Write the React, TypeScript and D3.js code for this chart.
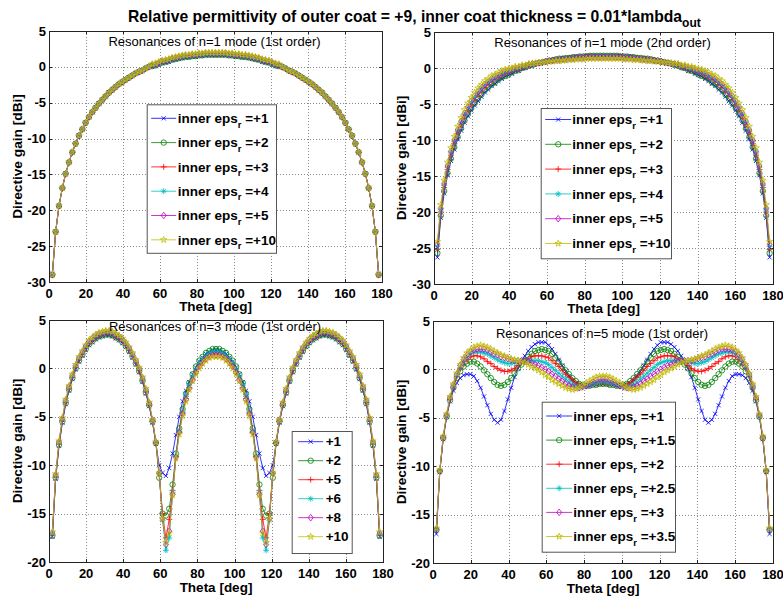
import React, { useRef, useEffect } from "react";
import * as d3 from "d3";

// theta samples [deg]
const theta = [
  1.8, 3.6, 5.4, 7.2, 9, 10.8, 12.6, 14.4, 16.2, 18, 19.8, 21.6, 23.4, 25.2, 27, 28.8, 30.6, 32.4, 34.2, 36,
  37.8, 39.6, 41.4, 43.2, 45, 46.8, 48.6, 50.4, 52.2, 54, 55.8, 57.6, 59.4, 61.2, 63, 64.8, 66.6, 68.4, 70.2, 72,
  73.8, 75.6, 77.4, 79.2, 81, 82.8, 84.6, 86.4, 88.2, 90, 91.8, 93.6, 95.4, 97.2, 99, 100.8, 102.6, 104.4, 106.2, 108,
  109.8, 111.6, 113.4, 115.2, 117, 118.8, 120.6, 122.4, 124.2, 126, 127.8, 129.6, 131.4, 133.2, 135, 136.8, 138.6, 140.4, 142.2, 144,
  145.8, 147.6, 149.4, 151.2, 153, 154.8, 156.6, 158.4, 160.2, 162, 163.8, 165.6, 167.4, 169.2, 171, 172.8, 174.6, 176.4, 178.2,
];

// n=1 mode, 1st order
const n1aEps1 = [
  -29, -23, -19.4, -16.9, -14.9, -13.3, -11.9, -10.7, -9.6, -8.7, -7.8, -7, -6.3, -5.7, -5.1, -4.6, -4.1, -3.6, -3.2, -2.8, -2.4, -2.1, -1.8, -1.5, -1.2, -0.9, -0.7, -0.5, -0.2, 0,
  0, 0.1, 0.3, 0.5, 0.6, 0.7, 0.9, 1, 1.1, 1.2, 1.3, 1.3, 1.4, 1.4, 1.5, 1.5, 1.6, 1.6, 1.6, 1.6,
  1.6, 1.6, 1.6, 1.5, 1.5, 1.4, 1.4, 1.3, 1.3, 1.2, 1.1, 1, 0.9, 0.7, 0.6, 0.5, 0.3, 0.1, 0,
  0, -0.2, -0.5, -0.7, -0.9, -1.2, -1.5, -1.8, -2.1, -2.4, -2.8, -3.2, -3.6, -4.1, -4.6, -5.1, -5.7, -6.3, -7, -7.8, -8.7, -9.6, -10.7, -11.9, -13.3, -14.9, -16.9, -19.4, -23, -29,
];
const n1aEps2 = [
  -29, -23, -19.4, -16.9, -14.9, -13.3, -11.9, -10.7, -9.6, -8.7, -7.8, -7, -6.3, -5.7, -5.1, -4.6, -4.1, -3.6, -3.2, -2.8, -2.4, -2.1, -1.8, -1.5, -1.2, -0.9, -0.7, -0.5, -0.2, 0,
  0.1, 0.2, 0.4, 0.6, 0.7, 0.8, 1, 1.1, 1.2, 1.3, 1.4, 1.4, 1.5, 1.5, 1.6, 1.6, 1.7, 1.7, 1.7, 1.7,
  1.7, 1.7, 1.7, 1.6, 1.6, 1.5, 1.5, 1.4, 1.4, 1.3, 1.2, 1.1, 1, 0.8, 0.7, 0.6, 0.4, 0.2, 0.1,
  0, -0.2, -0.5, -0.7, -0.9, -1.2, -1.5, -1.8, -2.1, -2.4, -2.8, -3.2, -3.6, -4.1, -4.6, -5.1, -5.7, -6.3, -7, -7.8, -8.7, -9.6, -10.7, -11.9, -13.3, -14.9, -16.9, -19.4, -23, -29,
];
const n1aEps3 = [
  -29, -23, -19.4, -16.9, -14.9, -13.3, -11.9, -10.7, -9.6, -8.7, -7.8, -7, -6.3, -5.7, -5.1, -4.6, -4.1, -3.6, -3.2, -2.8, -2.4, -2.1, -1.8, -1.5, -1.2, -0.9, -0.7, -0.5, -0.2, 0,
  0.2, 0.3, 0.5, 0.7, 0.8, 0.9, 1.1, 1.2, 1.3, 1.4, 1.5, 1.5, 1.6, 1.6, 1.7, 1.7, 1.8, 1.8, 1.8, 1.8,
  1.8, 1.8, 1.8, 1.7, 1.7, 1.6, 1.6, 1.5, 1.5, 1.4, 1.3, 1.2, 1.1, 0.9, 0.8, 0.7, 0.5, 0.3, 0.2,
  0, -0.2, -0.5, -0.7, -0.9, -1.2, -1.5, -1.8, -2.1, -2.4, -2.8, -3.2, -3.6, -4.1, -4.6, -5.1, -5.7, -6.3, -7, -7.8, -8.7, -9.6, -10.7, -11.9, -13.3, -14.9, -16.9, -19.4, -23, -29,
];
const n1aEps4 = [
  -28.8, -22.9, -19.3, -16.9, -14.9, -13.3, -11.9, -10.7, -9.6, -8.7, -7.8, -7, -6.3, -5.7, -5.1, -4.6, -4.1, -3.6, -3.2, -2.8, -2.4, -2.1, -1.8, -1.5, -1.2, -0.9, -0.7, -0.5, -0.2, 0,
  0.2, 0.3, 0.5, 0.7, 0.8, 0.9, 1.1, 1.2, 1.3, 1.4, 1.5, 1.5, 1.6, 1.6, 1.7, 1.7, 1.8, 1.8, 1.8, 1.8,
  1.8, 1.8, 1.8, 1.7, 1.7, 1.6, 1.6, 1.5, 1.5, 1.4, 1.3, 1.2, 1.1, 0.9, 0.8, 0.7, 0.5, 0.3, 0.2,
  0, -0.2, -0.5, -0.7, -0.9, -1.2, -1.5, -1.8, -2.1, -2.4, -2.8, -3.2, -3.6, -4.1, -4.6, -5.1, -5.7, -6.3, -7, -7.8, -8.7, -9.6, -10.7, -11.9, -13.3, -14.9, -16.9, -19.3, -22.9, -28.8,
];
const n1aEps5 = [
  -29, -23, -19.4, -16.9, -14.9, -13.3, -11.9, -10.7, -9.6, -8.7, -7.8, -7, -6.3, -5.7, -5.1, -4.6, -4.1, -3.6, -3.2, -2.8, -2.4, -2.1, -1.8, -1.5, -1.2, -0.9, -0.7, -0.5, -0.2, 0,
  0.3, 0.4, 0.6, 0.8, 0.9, 1, 1.2, 1.3, 1.4, 1.5, 1.6, 1.6, 1.7, 1.7, 1.8, 1.8, 1.9, 1.9, 1.9, 1.9,
  1.9, 1.9, 1.9, 1.8, 1.8, 1.7, 1.7, 1.6, 1.6, 1.5, 1.4, 1.3, 1.2, 1, 0.9, 0.8, 0.6, 0.4, 0.3,
  0, -0.2, -0.5, -0.7, -0.9, -1.2, -1.5, -1.8, -2.1, -2.4, -2.8, -3.2, -3.6, -4.1, -4.6, -5.1, -5.7, -6.3, -7, -7.8, -8.7, -9.6, -10.7, -11.9, -13.3, -14.9, -16.9, -19.4, -23, -29,
];
const n1aEps10 = [
  -29, -23, -19.4, -16.9, -14.9, -13.3, -11.9, -10.7, -9.6, -8.7, -7.8, -7, -6.3, -5.7, -5.1, -4.6, -4.1, -3.6, -3.2, -2.8, -2.4, -2.1, -1.8, -1.5, -1.2, -0.9, -0.7, -0.5, -0.2, 0,
  0.4, 0.5, 0.7, 0.9, 1, 1.1, 1.3, 1.4, 1.5, 1.6, 1.7, 1.7, 1.8, 1.8, 1.9, 1.9, 2, 2, 2, 2,
  2, 2, 2, 1.9, 1.9, 1.8, 1.8, 1.7, 1.7, 1.6, 1.5, 1.4, 1.3, 1.1, 1, 0.9, 0.7, 0.5, 0.4,
  0, -0.2, -0.5, -0.7, -0.9, -1.2, -1.5, -1.8, -2.1, -2.4, -2.8, -3.2, -3.6, -4.1, -4.6, -5.1, -5.7, -6.3, -7, -7.8, -8.7, -9.6, -10.7, -11.9, -13.3, -14.9, -16.9, -19.4, -23, -29,
];

// n=1 mode, 2nd order
const n1bEps1 = [
  -26.3, -20.8, -17.4, -14.9, -12.9, -11.3, -9.9, -8.7, -7.6, -6.7, -5.9, -5.2, -4.6,
  -4, -3.4, -3, -2.5, -2.2, -1.8, -1.5, -1.2, -1, -0.8, -0.5, -0.4, -0.1, 0, 0.3, 0.4, 0.6,
  0.7, 0.8, 0.9, 1, 1.1, 1.2, 1.3, 1.3, 1.4, 1.4, 1.5, 1.6, 1.6, 1.6, 1.7, 1.7, 1.7, 1.7, 1.7, 1.7,
  1.7, 1.7, 1.7, 1.7, 1.7, 1.6, 1.6, 1.6, 1.5, 1.4, 1.4, 1.3, 1.3, 1.2, 1.1, 1, 0.9, 0.8, 0.7,
  0.6, 0.4, 0.3, 0, -0.1, -0.4, -0.5, -0.8, -1, -1.2, -1.5, -1.8, -2.2, -2.5, -3, -3.4, -4,
  -4.6, -5.2, -5.9, -6.7, -7.6, -8.7, -9.9, -11.3, -12.9, -14.9, -17.4, -20.8, -26.3,
];
const n1bEps2 = [
  -25.7, -20.5, -17.1, -14.6, -12.6, -11, -9.6, -8.4, -7.3, -6.4, -5.6, -4.9, -4.3,
  -3.7, -3.1, -2.7, -2.3, -2, -1.6, -1.3, -1.1, -0.9, -0.6, -0.4, -0.3, 0, 0.1, 0.3, 0.4, 0.6,
  0.7, 0.8, 0.9, 1, 1.1, 1.2, 1.3, 1.3, 1.4, 1.4, 1.5, 1.5, 1.6, 1.6, 1.6, 1.7, 1.7, 1.7, 1.7, 1.7,
  1.7, 1.7, 1.7, 1.7, 1.6, 1.6, 1.6, 1.5, 1.5, 1.4, 1.4, 1.3, 1.3, 1.2, 1.1, 1, 0.9, 0.8, 0.7,
  0.6, 0.4, 0.3, 0.1, 0, -0.3, -0.4, -0.6, -0.9, -1.1, -1.3, -1.6, -2, -2.3, -2.7, -3.1, -3.7,
  -4.3, -4.9, -5.6, -6.4, -7.3, -8.4, -9.6, -11, -12.6, -14.6, -17.1, -20.5, -25.7,
];
const n1bEps3 = [
  -25.2, -20, -16.6, -14.1, -12.1, -10.5, -9.1, -7.9, -6.8, -5.9, -5.1, -4.4, -3.8,
  -3.2, -2.7, -2.3, -1.9, -1.6, -1.3, -1, -0.8, -0.6, -0.4, -0.2, -0.1, 0.1, 0.2, 0.4, 0.5, 0.6,
  0.7, 0.8, 0.9, 1, 1.1, 1.1, 1.2, 1.3, 1.3, 1.4, 1.4, 1.5, 1.5, 1.5, 1.6, 1.6, 1.6, 1.6, 1.6, 1.6,
  1.6, 1.6, 1.6, 1.6, 1.6, 1.5, 1.5, 1.5, 1.4, 1.4, 1.3, 1.3, 1.2, 1.1, 1.1, 1, 0.9, 0.8, 0.7,
  0.6, 0.5, 0.4, 0.2, 0.1, -0.1, -0.2, -0.4, -0.6, -0.8, -1, -1.3, -1.6, -1.9, -2.3, -2.7, -3.2,
  -3.8, -4.4, -5.1, -5.9, -6.8, -7.9, -9.1, -10.5, -12.1, -14.1, -16.6, -20, -25.2,
];
const n1bEps4 = [
  -24.8, -19.7, -16.3, -13.8, -11.8, -10.2, -8.8, -7.6, -6.5, -5.6, -4.8, -4.1, -3.5,
  -2.9, -2.4, -2, -1.7, -1.4, -1.1, -0.8, -0.6, -0.5, -0.3, -0.1, 0, 0.2, 0.3, 0.5, 0.5, 0.6,
  0.7, 0.8, 0.9, 1, 1, 1.1, 1.2, 1.2, 1.3, 1.3, 1.4, 1.4, 1.5, 1.5, 1.5, 1.5, 1.6, 1.6, 1.6, 1.6,
  1.6, 1.6, 1.6, 1.5, 1.5, 1.5, 1.5, 1.4, 1.4, 1.3, 1.3, 1.2, 1.2, 1.1, 1, 1, 0.9, 0.8, 0.7,
  0.6, 0.5, 0.5, 0.3, 0.2, 0, -0.1, -0.3, -0.5, -0.6, -0.8, -1.1, -1.4, -1.7, -2, -2.4, -2.9,
  -3.5, -4.1, -4.8, -5.6, -6.5, -7.6, -8.8, -10.2, -11.8, -13.8, -16.3, -19.7, -24.8,
];
const n1bEps5 = [
  -24.5, -19.5, -16.1, -13.6, -11.6, -10, -8.6, -7.4, -6.3, -5.4, -4.6, -3.9, -3.3,
  -2.7, -2.3, -1.9, -1.5, -1.2, -1, -0.7, -0.5, -0.4, -0.2, 0, 0.1, 0.2, 0.3, 0.5, 0.6, 0.6,
  0.7, 0.8, 0.9, 1, 1, 1.1, 1.1, 1.2, 1.2, 1.3, 1.3, 1.4, 1.4, 1.4, 1.5, 1.5, 1.5, 1.5, 1.5, 1.5,
  1.5, 1.5, 1.5, 1.5, 1.5, 1.4, 1.4, 1.4, 1.3, 1.3, 1.2, 1.2, 1.1, 1.1, 1, 1, 0.9, 0.8, 0.7,
  0.6, 0.6, 0.5, 0.3, 0.2, 0.1, 0, -0.2, -0.4, -0.5, -0.7, -1, -1.2, -1.5, -1.9, -2.3, -2.7,
  -3.3, -3.9, -4.6, -5.4, -6.3, -7.4, -8.6, -10, -11.6, -13.6, -16.1, -19.5, -24.5,
];
const n1bEps10 = [
  -24.1, -19, -15.6, -13.1, -11.1, -9.5, -8.1, -6.9, -5.8, -4.9, -4.1, -3.4, -2.8,
  -2.3, -1.8, -1.5, -1.1, -0.9, -0.6, -0.4, -0.2, -0.1, 0, 0.2, 0.2, 0.4, 0.4, 0.6, 0.6, 0.7,
  0.7, 0.8, 0.8, 0.9, 0.9, 1, 1, 1, 1.1, 1.1, 1.1, 1.2, 1.2, 1.2, 1.3, 1.3, 1.3, 1.3, 1.3, 1.3,
  1.3, 1.3, 1.3, 1.3, 1.3, 1.2, 1.2, 1.2, 1.1, 1.1, 1.1, 1, 1, 1, 0.9, 0.9, 0.8, 0.8, 0.7,
  0.7, 0.6, 0.6, 0.4, 0.4, 0.2, 0.2, 0, -0.1, -0.2, -0.4, -0.6, -0.9, -1.1, -1.5, -1.8, -2.3,
  -2.8, -3.4, -4.1, -4.9, -5.8, -6.9, -8.1, -9.5, -11.1, -13.1, -15.6, -19, -24.1,
];

// n=3 mode, 1st order
const n3Eps1 = [
  -17.4, -11.4, -8, -5.6, -3.7, -2.3, -1.1, -0.1, 0.7, 1.3,
  1.9, 2.4, 2.7, 3, 3.2, 3.3, 3.4, 3.4, 3.3, 3.1,
  2.9, 2.6, 2.2, 1.7, 1.1, 0.4, -0.4, -1.4, -2.6, -3.9,
  -5.6, -7.8, -10, -10.8, -11.1, -10.3, -8.8, -6.9, -5, -3.4,
  -2.3, -1.4, -0.6, 0.1, 0.7, 1.1, 1.5, 1.7, 1.9, 1.9,
  1.9, 1.7, 1.5, 1.1, 0.7, 0.1, -0.6, -1.4, -2.3,
  -3.4, -5, -6.9, -8.8, -10.3, -11.1, -10.8, -10, -7.8, -5.6,
  -3.9, -2.6, -1.4, -0.4, 0.4, 1.1, 1.7, 2.2, 2.6, 2.9,
  3.1, 3.3, 3.4, 3.4, 3.3, 3.2, 3, 2.7, 2.4, 1.9,
  1.3, 0.7, -0.1, -1.1, -2.3, -3.7, -5.6, -8, -11.4, -17.4,
];
const n3Eps2 = [
  -17.3, -11.3, -7.9, -5.5, -3.6, -2.2, -1, 0, 0.8, 1.4,
  2, 2.5, 2.8, 3.1, 3.3, 3.4, 3.5, 3.5, 3.4, 3.2,
  3, 2.7, 2.3, 1.8, 1.2, 0.5, -0.3, -1.3, -2.5, -3.8,
  -5.5, -7.7, -11.3, -15, -15.2, -14.5, -12, -8.8, -6.2, -4.2,
  -2.6, -1.5, -0.6, 0.2, 0.8, 1.2, 1.6, 1.8, 2, 2,
  2, 1.8, 1.6, 1.2, 0.8, 0.2, -0.6, -1.5, -2.6,
  -4.2, -6.2, -8.8, -12, -14.5, -15.2, -15, -11.3, -7.7, -5.5,
  -3.8, -2.5, -1.3, -0.3, 0.5, 1.2, 1.8, 2.3, 2.7, 3,
  3.2, 3.4, 3.5, 3.5, 3.4, 3.3, 3.1, 2.8, 2.5, 2,
  1.4, 0.8, 0, -1, -2.2, -3.6, -5.5, -7.9, -11.3, -17.3,
];
const n3Eps5 = [
  -17.2, -11.2, -7.8, -5.4, -3.5, -2.1, -0.9, 0.1, 0.9, 1.5,
  2.1, 2.6, 2.9, 3.2, 3.4, 3.5, 3.6, 3.6, 3.5, 3.3,
  3.1, 2.8, 2.4, 1.9, 1.3, 0.6, -0.2, -1.2, -2.4, -3.8,
  -5.5, -7.7, -10.9, -15, -17.5, -15.6, -12.6, -9.1, -6.6, -4.6,
  -3.1, -2, -1.1, -0.3, 0.3, 0.7, 1.1, 1.3, 1.5, 1.5,
  1.5, 1.3, 1.1, 0.7, 0.3, -0.3, -1.1, -2, -3.1,
  -4.6, -6.6, -9.1, -12.6, -15.6, -17.5, -15, -10.9, -7.7, -5.5,
  -3.8, -2.4, -1.2, -0.2, 0.6, 1.3, 1.9, 2.4, 2.8, 3.1,
  3.3, 3.5, 3.6, 3.6, 3.5, 3.4, 3.2, 2.9, 2.6, 2.1,
  1.5, 0.9, 0.1, -0.9, -2.1, -3.5, -5.4, -7.8, -11.2, -17.2,
];
const n3Eps6 = [
  -17.1, -11.1, -7.7, -5.3, -3.4, -2, -0.8, 0.2, 1, 1.6,
  2.2, 2.7, 3, 3.3, 3.5, 3.6, 3.7, 3.7, 3.6, 3.4,
  3.2, 2.9, 2.5, 2, 1.4, 0.7, -0.1, -1.1, -2.3, -3.7,
  -5.4, -7.6, -10.8, -15.7, -18.8, -17.5, -12.8, -9, -6.5, -4.5,
  -2.9, -1.8, -0.9, -0.1, 0.5, 0.9, 1.3, 1.5, 1.7, 1.7,
  1.7, 1.5, 1.3, 0.9, 0.5, -0.1, -0.9, -1.8, -2.9,
  -4.5, -6.5, -9, -12.8, -17.5, -18.8, -15.7, -10.8, -7.6, -5.4,
  -3.7, -2.3, -1.1, -0.1, 0.7, 1.4, 2, 2.5, 2.9, 3.2,
  3.4, 3.6, 3.7, 3.7, 3.6, 3.5, 3.3, 3, 2.7, 2.2,
  1.6, 1, 0.2, -0.8, -2, -3.4, -5.3, -7.7, -11.1, -17.1,
];
const n3Eps8 = [
  -17, -11, -7.6, -5.2, -3.3, -1.9, -0.7, 0.3, 1.1, 1.7,
  2.3, 2.8, 3.1, 3.4, 3.6, 3.7, 3.8, 3.8, 3.7, 3.5,
  3.3, 3, 2.6, 2.1, 1.5, 0.8, 0, -1, -2.2, -3.6,
  -5.3, -7.6, -10.8, -15.5, -18.2, -16.8, -13, -9.2, -6.6, -4.7,
  -3.2, -2.1, -1.2, -0.4, 0.2, 0.6, 1, 1.2, 1.4, 1.4,
  1.4, 1.2, 1, 0.6, 0.2, -0.4, -1.2, -2.1, -3.2,
  -4.7, -6.6, -9.2, -13, -16.8, -18.2, -15.5, -10.8, -7.6, -5.3,
  -3.6, -2.2, -1, 0, 0.8, 1.5, 2.1, 2.6, 3, 3.3,
  3.5, 3.7, 3.8, 3.8, 3.7, 3.6, 3.4, 3.1, 2.8, 2.3,
  1.7, 1.1, 0.3, -0.7, -1.9, -3.3, -5.2, -7.6, -11, -17,
];
const n3Eps10 = [
  -16.9, -10.9, -7.5, -5.1, -3.2, -1.8, -0.6, 0.4, 1.2, 1.8,
  2.4, 2.9, 3.2, 3.5, 3.7, 3.8, 3.9, 3.9, 3.8, 3.6,
  3.4, 3.1, 2.7, 2.2, 1.6, 0.9, 0.1, -0.9, -2.1, -3.5,
  -5.3, -7.6, -10.8, -15.5, -18, -17, -13.1, -9.3, -6.8, -4.9,
  -3.4, -2.2, -1.3, -0.6, 0, 0.5, 0.8, 1.1, 1.2, 1.2,
  1.2, 1.1, 0.8, 0.5, 0, -0.6, -1.3, -2.2, -3.4,
  -4.9, -6.8, -9.3, -13.1, -17, -18, -15.5, -10.8, -7.6, -5.3,
  -3.5, -2.1, -0.9, 0.1, 0.9, 1.6, 2.2, 2.7, 3.1, 3.4,
  3.6, 3.8, 3.9, 3.9, 3.8, 3.7, 3.5, 3.2, 2.9, 2.4,
  1.8, 1.2, 0.4, -0.6, -1.8, -3.2, -5.1, -7.5, -10.9, -16.9,
];

// n=5 mode, 1st order
const n5Eps1 = [
  -17, -10.6, -7.2, -4.9, -3.3, -2.2, -1.4, -0.9, -0.6, -0.5,
  -0.5, -0.7, -1.2, -1.9, -2.8, -3.7, -4.6, -5.2, -5.5, -5.2,
  -4.3, -3.1, -1.9, -0.8, 0.1, 0.8, 1.4, 1.9, 2.3, 2.6,
  2.8, 2.8, 2.8, 2.5, 2.1, 1.6, 1, 0.4, -0.2, -0.7,
  -1.1, -1.4, -1.6, -1.7, -1.7, -1.7, -1.6, -1.6, -1.5, -1.5,
  -1.5, -1.6, -1.6, -1.7, -1.7, -1.7, -1.6, -1.4, -1.1,
  -0.7, -0.2, 0.4, 1, 1.6, 2.1, 2.5, 2.8, 2.8, 2.8,
  2.6, 2.3, 1.9, 1.4, 0.8, 0.1, -0.8, -1.9, -3.1, -4.3,
  -5.2, -5.5, -5.2, -4.6, -3.7, -2.8, -1.9, -1.2, -0.7, -0.5,
  -0.5, -0.6, -0.9, -1.4, -2.2, -3.3, -4.9, -7.2, -10.6, -17,
];
const n5Eps15 = [
  -16.6, -10.5, -7.1, -4.9, -3.2, -1.9, -0.9, -0.2, 0.3, 0.6,
  0.8, 0.8, 0.6, 0.3, -0.1, -0.5, -0.9, -1.3, -1.6, -1.7,
  -1.6, -1.3, -0.9, -0.4, 0.1, 0.5, 0.9, 1.3, 1.6, 1.9,
  2, 2.1, 2, 1.9, 1.6, 1.2, 0.8, 0.3, -0.1, -0.5,
  -0.9, -1.2, -1.5, -1.6, -1.7, -1.7, -1.6, -1.6, -1.5, -1.5,
  -1.5, -1.6, -1.6, -1.7, -1.7, -1.6, -1.5, -1.2, -0.9,
  -0.5, -0.1, 0.3, 0.8, 1.2, 1.6, 1.9, 2, 2.1, 2,
  1.9, 1.6, 1.3, 0.9, 0.5, 0.1, -0.4, -0.9, -1.3, -1.6,
  -1.7, -1.6, -1.3, -0.9, -0.5, -0.1, 0.3, 0.6, 0.8, 0.8,
  0.6, 0.3, -0.2, -0.9, -1.9, -3.2, -4.9, -7.1, -10.5, -16.6,
];
const n5Eps2 = [
  -16.5, -10.5, -7.1, -4.8, -3.1, -1.8, -0.7, 0.1, 0.6, 1,
  1.3, 1.4, 1.4, 1.3, 1.1, 0.8, 0.6, 0.3, 0.1, -0.1,
  -0.2, -0.2, -0.1, 0.1, 0.4, 0.7, 0.9, 1.1, 1.3, 1.4,
  1.4, 1.4, 1.3, 1.2, 0.9, 0.6, 0.3, -0.1, -0.5, -0.8,
  -1.1, -1.4, -1.6, -1.7, -1.7, -1.6, -1.5, -1.5, -1.4, -1.4,
  -1.4, -1.5, -1.5, -1.6, -1.7, -1.7, -1.6, -1.4, -1.1,
  -0.8, -0.5, -0.1, 0.3, 0.6, 0.9, 1.2, 1.3, 1.4, 1.4,
  1.4, 1.3, 1.1, 0.9, 0.7, 0.4, 0.1, -0.1, -0.2, -0.2,
  -0.1, 0.1, 0.3, 0.6, 0.8, 1.1, 1.3, 1.4, 1.4, 1.3,
  1, 0.6, 0.1, -0.7, -1.8, -3.1, -4.8, -7.1, -10.5, -16.5,
];
const n5Eps25 = [
  -16.5, -10.5, -7, -4.8, -3, -1.7, -0.6, 0.2, 0.8, 1.3,
  1.6, 1.8, 1.8, 1.8, 1.7, 1.6, 1.4, 1.2, 1, 0.8,
  0.7, 0.6, 0.6, 0.7, 0.7, 0.8, 0.9, 0.9, 0.9, 0.9,
  0.9, 0.8, 0.7, 0.5, 0.2, -0.1, -0.4, -0.7, -1, -1.3,
  -1.6, -1.7, -1.8, -1.8, -1.7, -1.6, -1.5, -1.4, -1.3, -1.2,
  -1.3, -1.4, -1.5, -1.6, -1.7, -1.8, -1.8, -1.7, -1.6,
  -1.3, -1, -0.7, -0.4, -0.1, 0.2, 0.5, 0.7, 0.8, 0.9,
  0.9, 0.9, 0.9, 0.9, 0.8, 0.7, 0.7, 0.6, 0.6, 0.7,
  0.8, 1, 1.2, 1.4, 1.6, 1.7, 1.8, 1.8, 1.8, 1.6,
  1.3, 0.8, 0.2, -0.6, -1.7, -3, -4.8, -7, -10.5, -16.5,
];
const n5Eps3 = [
  -16.5, -10.5, -7, -4.7, -2.9, -1.6, -0.5, 0.4, 1, 1.5,
  1.8, 2, 2.1, 2.1, 2.1, 2, 1.8, 1.6, 1.5, 1.3,
  1.2, 1.1, 1, 0.9, 0.9, 0.9, 0.8, 0.8, 0.7, 0.5,
  0.4, 0.2, 0, -0.2, -0.5, -0.7, -1, -1.2, -1.5, -1.7,
  -1.8, -1.9, -1.9, -1.8, -1.7, -1.5, -1.3, -1.1, -1, -1,
  -1, -1.1, -1.3, -1.5, -1.7, -1.8, -1.9, -1.9, -1.8,
  -1.7, -1.5, -1.2, -1, -0.7, -0.5, -0.2, 0, 0.2, 0.4,
  0.5, 0.7, 0.8, 0.8, 0.9, 0.9, 0.9, 1, 1.1, 1.2,
  1.3, 1.5, 1.6, 1.8, 2, 2.1, 2.1, 2.1, 2, 1.8,
  1.5, 1, 0.4, -0.5, -1.6, -2.9, -4.7, -7, -10.5, -16.5,
];
const n5Eps35 = [
  -16.4, -10.4, -6.9, -4.6, -2.8, -1.5, -0.4, 0.5, 1.2, 1.7,
  2, 2.3, 2.4, 2.5, 2.4, 2.3, 2.1, 1.9, 1.7, 1.5,
  1.4, 1.2, 1.1, 1, 0.9, 0.8, 0.7, 0.5, 0.3, 0.1,
  -0.1, -0.3, -0.6, -0.8, -1.1, -1.3, -1.5, -1.7, -1.9, -2,
  -2.1, -2, -1.9, -1.7, -1.4, -1.2, -1, -0.8, -0.7, -0.7,
  -0.7, -0.8, -1, -1.2, -1.4, -1.7, -1.9, -2, -2.1,
  -2, -1.9, -1.7, -1.5, -1.3, -1.1, -0.8, -0.6, -0.3, -0.1,
  0.1, 0.3, 0.5, 0.7, 0.8, 0.9, 1, 1.1, 1.2, 1.4,
  1.5, 1.7, 1.9, 2.1, 2.3, 2.4, 2.5, 2.4, 2.3, 2,
  1.7, 1.2, 0.5, -0.4, -1.5, -2.8, -4.6, -6.9, -10.4, -16.4,
];

const legendN1 = ["+1", "+2", "+3", "+4", "+5", "+10"];
const legendN3 = ["+1", "+2", "+5", "+6", "+8", "+10"];
const legendN5 = ["+1", "+1.5", "+2", "+2.5", "+3", "+3.5"];

const xTicks = [0, 20, 40, 60, 80, 100, 120, 140, 160, 180];
const yTicksTop = [-30, -25, -20, -15, -10, -5, 0, 5];
const yTicksBottom = [-20, -15, -10, -5, 0, 5];

const colors = ["#0000ff", "#008000", "#ff0000", "#00bfbf", "#bf00bf", "#bfbf00"];
const markerTypes = ["x", "o", "+", "*", "d", "p"];

const panels = [
  {
    title: "Resonances of n=1 mode (1st order)",
    series: [n1aEps1, n1aEps2, n1aEps3, n1aEps4, n1aEps5, n1aEps10],
    labels: legendN1, prefix: true, yTicks: yTicksTop,
    left: 49, right: 382, top: 31, bottom: 282, titleY: 45.5, xLabelY: 311, yLabelX: 21.7,
    legend: { x: 146.7, y: 104.3, w: 129.3, h: 148.5, first: 14, step: 24.3, lx1: 4.5, lx2: 29.5, tx: 31 },
  },
  {
    title: "Resonances of n=1 mode (2nd order)",
    series: [n1bEps1, n1bEps2, n1bEps3, n1bEps4, n1bEps5, n1bEps10],
    labels: legendN1, prefix: true, yTicks: yTicksTop,
    left: 434, right: 773, top: 32, bottom: 284, titleY: 46.5, xLabelY: 313, yLabelX: 406,
    legend: { x: 540.7, y: 108, w: 130.3, h: 150.3, first: 11.5, step: 24.8, lx1: 4.5, lx2: 30.5, tx: 31.5 },
  },
  {
    title: "Resonances of n=3 mode (1st order)",
    series: [n3Eps1, n3Eps2, n3Eps5, n3Eps6, n3Eps8, n3Eps10],
    labels: legendN3, prefix: false, yTicks: yTicksBottom,
    left: 49, right: 383, top: 320, bottom: 562, titleY: 331, xLabelY: 592, yLabelX: 21.7,
    legend: { x: 291.7, y: 431, w: 60, h: 122, first: 10.7, step: 19, lx1: 6.5, lx2: 31.5, tx: 34 },
  },
  {
    title: "Resonances of n=5 mode (1st order)",
    series: [n5Eps1, n5Eps15, n5Eps2, n5Eps25, n5Eps3, n5Eps35],
    labels: legendN5, prefix: true, yTicks: yTicksBottom,
    left: 433, right: 773, top: 321, bottom: 563, titleY: 338, xLabelY: 593, yLabelX: 406,
    legend: { x: 541.7, y: 401.7, w: 133.3, h: 150, first: 14.3, step: 24.1, lx1: 4.5, lx2: 30.5, tx: 31.5 },
  },
];

const FONT = "'Liberation Sans', Arial, Helvetica, sans-serif";

function markerPath(type: string): string {
  switch (type) {
    case "x":
      return "M-2.1,-2.1L2.1,2.1M-2.1,2.1L2.1,-2.1";
    case "o":
      return "M2.7,0A2.7,2.7 0 1,1 -2.7,0A2.7,2.7 0 1,1 2.7,0Z";
    case "+":
      return "M-3,0L3,0M0,-3L0,3";
    case "*":
      return "M-3,0L3,0M0,-3L0,3M-2.1,-2.1L2.1,2.1M-2.1,2.1L2.1,-2.1";
    case "d":
      return "M0,-3.3L2.5,0L0,3.3L-2.5,0Z";
    default:
      return d3.symbol(d3.symbolStar, 13)() || "";
  }
}

function drawPanel(svg: any, p: any) {
  const x = d3.scaleLinear().domain([0, 180]).range([p.left, p.right]);
  const y = d3.scaleLinear().domain([p.yTicks[0], 5]).range([p.bottom, p.top]);
  const g = svg.append("g");

  // grid
  g.selectAll("line.gx")
    .data(xTicks.slice(1, -1))
    .join("line")
    .attr("x1", (d: number) => Math.round(x(d)) + 0.5)
    .attr("x2", (d: number) => Math.round(x(d)) + 0.5)
    .attr("y1", p.top)
    .attr("y2", p.bottom)
    .attr("stroke", "#8a8a8a")
    .attr("stroke-width", 1)
    .attr("stroke-dasharray", "1,2");
  g.selectAll("line.gy")
    .data(p.yTicks.slice(1, -1))
    .join("line")
    .attr("x1", p.left)
    .attr("x2", p.right)
    .attr("y1", (d: number) => Math.round(y(d)) + 0.5)
    .attr("y2", (d: number) => Math.round(y(d)) + 0.5)
    .attr("stroke", "#8a8a8a")
    .attr("stroke-width", 1)
    .attr("stroke-dasharray", "1,2");

  // inner tick marks
  xTicks.forEach((t) => {
    const xx = Math.round(x(t)) + 0.5;
    g.append("line").attr("x1", xx).attr("x2", xx).attr("y1", p.bottom).attr("y2", p.bottom - 3).attr("stroke", "#222");
    g.append("line").attr("x1", xx).attr("x2", xx).attr("y1", p.top).attr("y2", p.top + 3).attr("stroke", "#222");
  });
  p.yTicks.forEach((t: number) => {
    const yy = Math.round(y(t)) + 0.5;
    g.append("line").attr("x1", p.left).attr("x2", p.left + 3).attr("y1", yy).attr("y2", yy).attr("stroke", "#222");
    g.append("line").attr("x1", p.right).attr("x2", p.right - 3).attr("y1", yy).attr("y2", yy).attr("stroke", "#222");
  });

  // series
  const line = d3
    .line<number>()
    .x((_d, i) => x(theta[i]))
    .y((d) => y(d));
  p.series.forEach((vals: number[], k: number) => {
    const sg = g.append("g");
    sg.append("path")
      .attr("d", line(vals))
      .attr("fill", "none")
      .attr("stroke", colors[k])
      .attr("stroke-width", 0.8);
    const mp = markerPath(markerTypes[k]);
    sg.selectAll("path.m")
      .data(vals)
      .join("path")
      .attr("class", "m")
      .attr("d", mp)
      .attr("transform", (d: number, i: number) => `translate(${x(theta[i])},${y(d)})`)
      .attr("fill", "none")
      .attr("stroke", colors[k])
      .attr("stroke-width", 0.8);
  });

  // axes box
  g.append("rect")
    .attr("x", p.left + 0.5)
    .attr("y", p.top + 0.5)
    .attr("width", p.right - p.left)
    .attr("height", p.bottom - p.top)
    .attr("fill", "none")
    .attr("stroke", "#222")
    .attr("stroke-width", 1);

  // tick labels
  g.selectAll("text.xt")
    .data(xTicks)
    .join("text")
    .attr("x", (d: number) => x(d))
    .attr("y", p.bottom + 15.5)
    .attr("text-anchor", "middle")
    .attr("font-family", FONT)
    .attr("font-weight", "bold")
    .attr("font-size", 13)
    .text((d: number) => d);
  g.selectAll("text.yt")
    .data(p.yTicks)
    .join("text")
    .attr("x", p.left - 3)
    .attr("y", (d: number) => y(d) + 4.6)
    .attr("text-anchor", "end")
    .attr("font-family", FONT)
    .attr("font-weight", "bold")
    .attr("font-size", 13)
    .text((d: number) => d);

  // labels
  g.append("text")
    .attr("x", (p.left + p.right) / 2)
    .attr("y", p.xLabelY)
    .attr("text-anchor", "middle")
    .attr("font-family", FONT)
    .attr("font-weight", "bold")
    .attr("font-size", 13.5)
    .text("Theta [deg]");
  g.append("text")
    .attr("transform", `translate(${p.yLabelX},${(p.top + p.bottom) / 2}) rotate(-90)`)
    .attr("text-anchor", "middle")
    .attr("font-family", FONT)
    .attr("font-weight", "bold")
    .attr("font-size", 13.7)
    .text("Directive gain [dBi]");
  g.append("text")
    .attr("x", (p.left + p.right) / 2 - 1)
    .attr("y", p.titleY)
    .attr("text-anchor", "middle")
    .attr("font-family", FONT)
    .attr("font-size", 13)
    .text(p.title);

  // legend
  const L = p.legend;
  const lg = g.append("g");
  lg.append("rect")
    .attr("x", L.x + 0.5)
    .attr("y", L.y + 0.5)
    .attr("width", L.w)
    .attr("height", L.h)
    .attr("fill", "#fff")
    .attr("stroke", "#555")
    .attr("stroke-width", 1);
  p.labels.forEach((lab: string, k: number) => {
    const ry = L.y + L.first + k * L.step;
    lg.append("line")
      .attr("x1", L.x + L.lx1)
      .attr("x2", L.x + L.lx2)
      .attr("y1", ry)
      .attr("y2", ry)
      .attr("stroke", colors[k])
      .attr("stroke-width", 0.8);
    lg.append("path")
      .attr("d", markerPath(markerTypes[k]))
      .attr("transform", `translate(${L.x + (L.lx1 + L.lx2) / 2},${ry})`)
      .attr("fill", "none")
      .attr("stroke", colors[k])
      .attr("stroke-width", 0.8);
    const t = lg
      .append("text")
      .attr("x", L.x + L.tx)
      .attr("y", ry + 4.7)
      .attr("font-family", FONT)
      .attr("font-weight", "bold")
      .attr("font-size", 13.5);
    if (p.prefix) {
      t.append("tspan").text("inner eps");
      t.append("tspan").attr("dy", 4.5).attr("font-size", 9.5).text("r");
      t.append("tspan").attr("dy", -4.5).text(" =" + lab);
    } else {
      t.text(lab);
    }
  });
}

export default function App() {
  const ref = useRef<SVGSVGElement>(null);

  useEffect(() => {
    const svg = d3.select(ref.current);
    svg.selectAll("*").remove();

    const title = svg
      .append("text")
      .attr("x", 128)
      .attr("y", 21.5)
      .attr("font-family", FONT)
      .attr("font-weight", "bold")
      .attr("font-size", 15.7);
    title.append("tspan").text("Relative permittivity of outer coat = +9, inner coat thickness = 0.01*lambda");
    title.append("tspan").attr("dy", 5.5).attr("font-size", 12).text("out");

    panels.forEach((p) => drawPanel(svg, p));
  }, []);

  return (
    <svg
      ref={ref}
      width={783}
      height={599}
      style={{ position: "absolute", left: 0, top: 0, background: "#fff" }}
    ></svg>
  );
}
